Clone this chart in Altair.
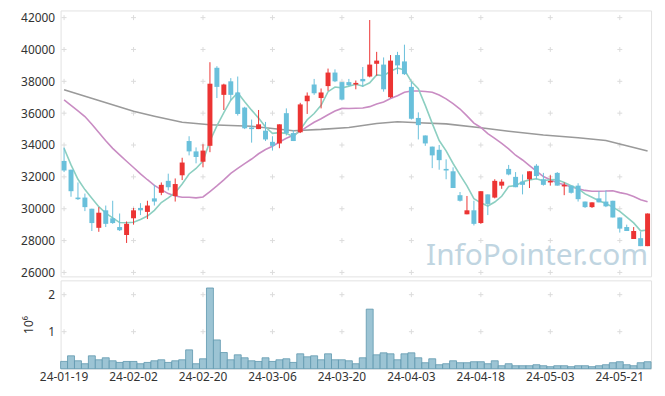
import altair as alt
import pandas as pd

# ---- trading days (categories) ----
jan = ["19", "22", "23", "24", "25", "26", "29", "30", "31"]
feb = ["01", "02", "05", "06", "07", "08", "13", "14", "15", "16", "19", "20",
       "21", "22", "23", "26", "27", "28", "29"]
mar = ["04", "05", "06", "07", "08", "11", "12", "13", "14", "15", "18", "19",
       "20", "21", "22", "25", "26", "27", "28", "29"]
apr = ["01", "02", "03", "04", "05", "08", "09", "11", "12", "15", "16", "17",
       "18", "19", "22", "23", "24", "25", "26", "29", "30"]
may = ["02", "03", "07", "08", "09", "10", "13", "14", "16", "17", "20", "21",
       "22", "23", "24", "27"]
dates = (["24-01-" + d for d in jan] + ["24-02-" + d for d in feb] +
         ["24-03-" + d for d in mar] + ["24-04-" + d for d in apr] +
         ["24-05-" + d for d in may])

opens = [33000, 32450, 30700, 30700, 30000, 28800, 29900, 29400, 28850, 28350,
         29400, 30050, 29800, 30650, 31000, 31750, 30800, 32100, 34250, 33600,
         32950, 33950, 38850, 37150, 38000, 37300, 36350, 35100, 35000, 34900,
         34200, 34100, 36000, 34750, 34800, 36750, 37800, 36950, 37700, 38550,
         37950, 37950, 37800, 38150, 38300, 39100, 39050, 37000, 39650, 39250,
         37650, 35700, 34600, 33900, 33700, 32500, 32350, 30850, 29650, 29900,
         29100, 30900, 30700, 31450, 32500, 32000, 31700, 31850, 32700, 31850,
         31650, 32250, 31400, 31450, 31450, 30450, 30100, 30650, 30450, 30500,
         29450, 28850, 28100, 28150, 27650]
highs = [33850, 32450, 31650, 30950, 30000, 30100, 30200, 30500, 29700, 29200,
         30050, 30350, 30500, 31500, 31650, 32200, 31900, 33200, 34550, 33850,
         34050, 39200, 38950, 37850, 38200, 38300, 36400, 35600, 36200, 35450,
         34550, 35300, 36300, 34950, 36650, 37300, 38150, 37550, 38800, 38750,
         37950, 38150, 38050, 38900, 41850, 39850, 39500, 39650, 39850, 40300,
         37950, 36050, 34600, 33900, 34000, 33100, 32600, 31050, 30800, 30500,
         31100, 30900, 31850, 31850, 32750, 32300, 32150, 32350, 32800, 32250,
         32100, 32300, 31650, 31450, 31600, 30450, 30400, 31100, 31150, 30500,
         29450, 29000, 28850, 28550, 29700]
lows = [32300, 30750, 30550, 29850, 28600, 28550, 28850, 29050, 28600, 27850,
        29000, 29600, 29350, 30200, 30850, 31150, 30450, 31800, 33350, 32850,
        32600, 33550, 36950, 36200, 36800, 35850, 35000, 34150, 35000, 34250,
        33650, 33800, 34600, 34250, 34750, 35950, 37150, 36300, 37400, 37950,
        36800, 37700, 37500, 37650, 38250, 38350, 37350, 36950, 38450, 38400,
        35600, 34350, 33950, 32550, 32450, 31850, 31300, 30450, 29650, 28950,
        29050, 29600, 30650, 31250, 32100, 31350, 30900, 31300, 31850, 31450,
        31450, 31450, 30850, 30950, 30450, 30050, 30050, 30400, 30100, 29450,
        28500, 28600, 28100, 27650, 27650]
closes = [32400, 31100, 30600, 30100, 29100, 29750, 29050, 29100, 28650, 29050,
          29900, 29900, 30200, 30450, 31500, 31350, 31550, 32900, 33600, 33250,
          33650, 37850, 37650, 37800, 37150, 35950, 35050, 35000, 35300, 34350,
          33950, 35300, 34750, 34250, 36550, 37100, 37250, 37300, 38550, 38000,
          36850, 37750, 37900, 38000, 39050, 39300, 37500, 39300, 39000, 38450,
          35650, 35250, 34100, 33350, 33050, 32400, 31300, 30500, 29900, 29050,
          31100, 30300, 31750, 31700, 32150, 31350, 31500, 32350, 32050, 31500,
          31750, 31450, 31500, 31000, 30600, 30100, 30400, 30400, 30150, 29450,
          28750, 28600, 28600, 27650, 29700]
volumes = [197000, 348000, 214000, 134000, 348000, 241000, 295000, 214000, 169000, 196000,
           196000, 134000, 169000, 214000, 241000, 169000, 214000, 241000, 509000, 134000,
           268000, 2180000, 777000, 437000, 241000, 375000, 295000, 214000, 196000, 295000,
           196000, 241000, 268000, 169000, 402000, 321000, 348000, 241000, 402000, 241000,
           241000, 214000, 134000, 295000, 1609000, 375000, 429000, 402000, 241000, 402000,
           429000, 295000, 161000, 268000, 107000, 134000, 214000, 161000, 161000, 188000,
           188000, 134000, 214000, 80000, 134000, 80000, 80000, 80000, 107000, 80000,
           54000, 80000, 80000, 54000, 80000, 80000, 54000, 80000, 107000, 161000,
           188000, 107000, 80000, 161000, 188000]
ma5 = [33800, 32750, 31850, 31200, 30660, 30130, 29720, 29420, 29130, 29120,
       29150, 29320, 29540, 29900, 30390, 30680, 31010, 31550, 32180, 32530,
       32990, 34250, 35200, 36040, 36820, 37280, 36720, 36190, 35690, 35130,
       34730, 34780, 34730, 34520, 34960, 35590, 35980, 36490, 37350, 37640,
       37590, 37690, 37810, 37700, 37910, 38400, 38350, 38630, 38830, 38710,
       37980, 37530, 36490, 35360, 34280, 33630, 32840, 32120, 31430, 30630,
       30370, 30170, 30420, 30780, 31400, 31450, 31690, 31810, 31880, 31750,
       31830, 31820, 31650, 31440, 31260, 30930, 30720, 30500, 30330, 30100,
       29830, 29470, 29110, 28610, 28660]
ma20 = [36830, 36490, 36140, 35790, 35310, 34790, 34270, 33790, 33380, 32980,
        32590, 32190, 31820, 31470, 31200, 30950, 30800, 30720, 30720, 30680,
        30740, 31080, 31430, 31810, 32220, 32530, 32830, 33120, 33450, 33720,
        33920, 34190, 34420, 34610, 34860, 35150, 35430, 35650, 35900, 36140,
        36300, 36290, 36310, 36320, 36410, 36580, 36700, 36920, 37100, 37310,
        37390, 37390, 37360, 37310, 37140, 36900, 36600, 36260, 35830, 35380,
        35100, 34720, 34420, 34100, 33760, 33360, 33060, 32710, 32360, 32020,
        31820, 31630, 31500, 31380, 31260, 31150, 31100, 31100, 31110, 31130,
        31010, 30930, 30770, 30570, 30440]
ma120_idx = [0, 5, 10, 13, 17, 21, 27, 33, 37, 41, 45, 48, 51, 55, 60, 64, 69, 74, 78, 81, 84]
ma120_val = [37470, 36800, 36120, 35810, 35430, 35270, 35180, 34900, 34980, 35100, 35350,
             35460, 35400, 35330, 35080, 34860, 34630, 34460, 34280, 33950, 33630]

tick_dates = dates[::10]
price_ticks = [26000, 28000, 30000, 32000, 34000, 36000, 38000, 40000, 42000]
vol_ticks = [1000000, 2000000]

RED = "#ec3433"
BLUE = "#69c0db"
FONT = "Noto Sans"

df = pd.DataFrame({"date": dates, "open": opens, "high": highs, "low": lows,
                   "close": closes, "volume": volumes, "ma5": ma5, "ma20": ma20})
ma120_df = pd.DataFrame({"date": [dates[i] for i in ma120_idx], "ma120": ma120_val})
grid_p = pd.DataFrame([(d, v) for d in tick_dates for v in price_ticks], columns=["date", "v"])
grid_v = pd.DataFrame([(d, v) for d in tick_dates for v in vol_ticks], columns=["date", "v"])
wm_df = pd.DataFrame({"t": ["InfoPointer.com"]})

xscale = alt.Scale(domain=dates, paddingInner=0, paddingOuter=0)
x_top = alt.X("date:O", scale=xscale, axis=None)
pscale = alt.Scale(domain=[25750, 42450], zero=False, nice=False)
p_axis = alt.Axis(values=price_ticks, format="d", ticks=False, domain=False, grid=False,
                  labelPadding=6, labelFontSize=12, labelOverlap=False, labelFlush=False,
                  title=None)
color_cond = alt.condition("datum.close >= datum.open", alt.value(RED), alt.value(BLUE))
cross = "M -1 0 L 1 0 M 0 -1 L 0 1"

W, HP, HV = 595, 268, 89

watermark = alt.Chart(wm_df).mark_text(
    text="InfoPointer.com", align="right", baseline="alphabetic", fontSize=30,
    font=FONT, color="#c0d5e1"
).encode(x=alt.value(592), y=alt.value(257))

grid_price = alt.Chart(grid_p).mark_point(
    shape=cross, size=25, filled=False, color="#dcdcdc", strokeWidth=1, opacity=1
).encode(x=x_top, y=alt.Y("v:Q", scale=pscale, axis=p_axis))

l120 = alt.Chart(ma120_df).mark_line(color="#9a9a9a", strokeWidth=1.6).encode(
    x=x_top, y=alt.Y("ma120:Q", scale=pscale, axis=p_axis))
l20 = alt.Chart(df).mark_line(color="#c98cc3", strokeWidth=1.6).encode(
    x=x_top, y=alt.Y("ma20:Q", scale=pscale, axis=p_axis))
l5 = alt.Chart(df).mark_line(color="#8ccfc1", strokeWidth=1.6).encode(
    x=x_top, y=alt.Y("ma5:Q", scale=pscale, axis=p_axis))
wick = alt.Chart(df).mark_rule(strokeWidth=1).encode(
    x=x_top, y=alt.Y("low:Q", scale=pscale, axis=p_axis), y2="high:Q", color=color_cond)
body = alt.Chart(df).mark_bar(size=5).encode(
    x=x_top, y=alt.Y("open:Q", scale=pscale, axis=p_axis), y2="close:Q", color=color_cond)

price = alt.layer(watermark, grid_price, l120, l20, l5, wick, body).properties(width=W, height=HP)

vscale = alt.Scale(domain=[0, 2386000], nice=False)
v_axis = alt.Axis(values=vol_ticks, labelExpr="datum.value / 1000000", ticks=False, domain=False,
                  grid=False, labelPadding=6, labelFontSize=12, labelOverlap=False,
                  labelFlush=False, title="10⁶", titleFontSize=12,
                  titleFontWeight="normal", titlePadding=12, titleColor="#333")
x_bot = alt.X("date:O", scale=xscale,
              axis=alt.Axis(values=tick_dates, labelAngle=0, ticks=False, domain=False, grid=False,
                            labelFontSize=12, labelPadding=3, labelFlush=False,
                            labelOverlap=False, title=None))
grid_vol = alt.Chart(grid_v).mark_point(
    shape=cross, size=25, filled=False, color="#dcdcdc", strokeWidth=1, opacity=1
).encode(x=x_bot, y=alt.Y("v:Q", scale=vscale, axis=v_axis, title="10⁶"))
vbars = alt.Chart(df).mark_bar(fill="#9cc4d4", stroke="#5f97ae", strokeWidth=0.8).encode(
    x=x_bot, y=alt.Y("volume:Q", scale=vscale, axis=v_axis, title="10⁶"))
volume = alt.layer(grid_vol, vbars).properties(width=W, height=HV)

chart = alt.vconcat(price, volume, spacing=0).resolve_scale(
    x="independent", y="independent"
).properties(
    padding={"left": 12, "top": 0, "right": 5, "bottom": 5}
).configure_view(stroke="#e2e2e2").configure_axis(
    labelFont=FONT, labelColor="#333", titleFont=FONT
)

chart.save("out.html", embed_options={"renderer": "svg", "actions": False})
